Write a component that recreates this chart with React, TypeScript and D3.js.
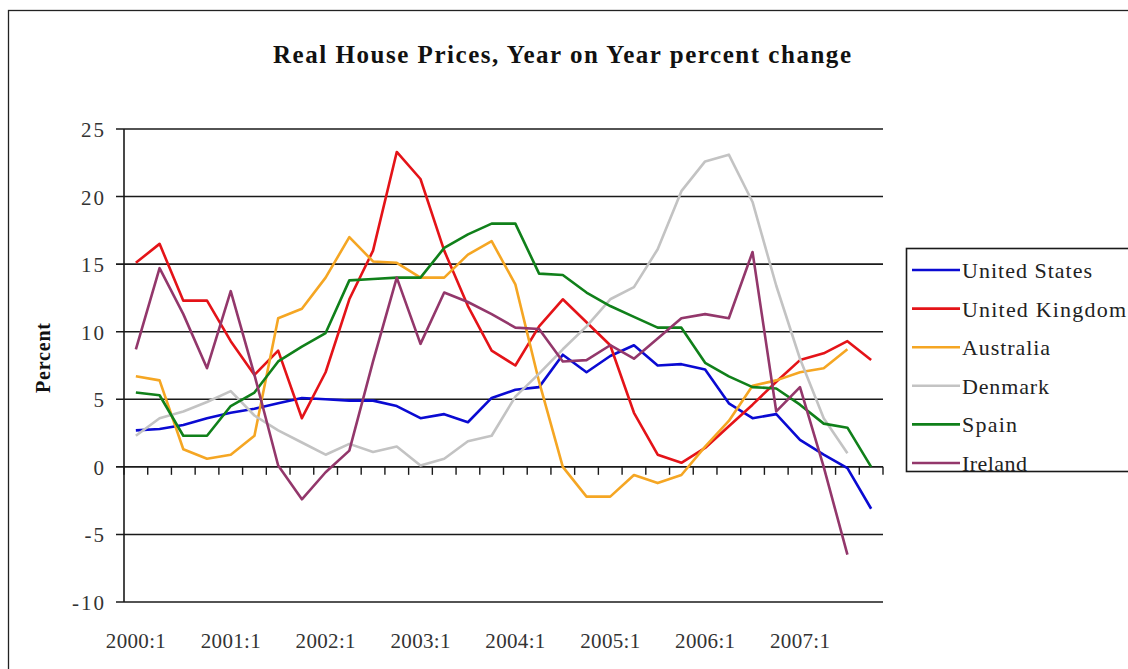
import * as d3 from "d3"

// quarterly categories, 2000:1 .. 2007:4
const quarters = [
  "2000:1", "2000:2", "2000:3", "2000:4", "2001:1", "2001:2", "2001:3", "2001:4",
  "2002:1", "2002:2", "2002:3", "2002:4", "2003:1", "2003:2", "2003:3", "2003:4",
  "2004:1", "2004:2", "2004:3", "2004:4", "2005:1", "2005:2", "2005:3", "2005:4",
  "2006:1", "2006:2", "2006:3", "2006:4", "2007:1", "2007:2", "2007:3", "2007:4",
]
const xLabels = ["2000:1", "2001:1", "2002:1", "2003:1", "2004:1", "2005:1", "2006:1", "2007:1"]
const yTicks = [-10, -5, 0, 5, 10, 15, 20, 25]

const unitedStates = [2.7, 2.8, 3.1, 3.6, 4.0, 4.3, 4.7, 5.1, 5.0, 4.9, 4.9, 4.5, 3.6, 3.9, 3.3, 5.1,
  5.7, 5.9, 8.3, 7.0, 8.2, 9.0, 7.5, 7.6, 7.2, 4.7, 3.6, 3.9, 2.0, 0.9, -0.1, -3.1]
const unitedKingdom = [15.1, 16.5, 12.3, 12.3, 9.3, 6.8, 8.6, 3.6, 7.0, 12.4, 16.0, 23.3, 21.3, 16.0, 11.9, 8.6,
  7.5, 10.4, 12.4, 10.7, 9.0, 4.0, 0.9, 0.3, 1.4, 3.0, 4.6, 6.3, 7.9, 8.4, 9.3, 7.9]
const australia = [6.7, 6.4, 1.3, 0.6, 0.9, 2.3, 11.0, 11.7, 14.0, 17.0, 15.2, 15.1, 14.0, 14.0, 15.7, 16.7,
  13.5, 6.3, 0.0, -2.2, -2.2, -0.6, -1.2, -0.6, 1.5, 3.4, 6.0, 6.4, 7.0, 7.3, 8.7, null]
const denmark = [2.3, 3.6, 4.1, 4.8, 5.6, 3.8, 2.7, 1.8, 0.9, 1.7, 1.1, 1.5, 0.1, 0.6, 1.9, 2.3,
  5.2, 6.9, 8.7, 10.4, 12.4, 13.3, 16.1, 20.4, 22.6, 23.1, 19.6, 13.4, 8.0, 3.6, 1.0, null]
const spain = [5.5, 5.3, 2.3, 2.3, 4.5, 5.5, 7.8, 8.9, 9.9, 13.8, 13.9, 14.0, 14.0, 16.2, 17.2, 18.0,
  18.0, 14.3, 14.2, 12.9, 11.9, 11.1, 10.3, 10.3, 7.7, 6.7, 5.9, 5.8, 4.6, 3.2, 2.9, 0.0]
const ireland = [8.7, 14.7, 11.3, 7.3, 13.0, 6.8, 0.1, -2.4, -0.4, 1.2, 7.8, 14.0, 9.1, 12.9, 12.2, 11.3,
  10.3, 10.2, 7.8, 7.9, 9.0, 8.0, 9.5, 11.0, 11.3, 11.0, 15.9, 4.1, 5.9, 0.0, -6.5, null]

const seriesNames = ["United States", "United Kingdom", "Australia", "Denmark", "Spain", "Ireland"]
const seriesValues = [unitedStates, unitedKingdom, australia, denmark, spain, ireland]

const colors = ["#0a0ad2", "#e41318", "#f5a623", "#c3c3c3", "#10801a", "#93376b"]
const legendWidths = [130, 164, 88, 87, 55, 65]
const font = "'Liberation Serif', 'Times New Roman', serif"

export default function App() {
  const width = 1128
  const height = 669
  const left = 124, right = 883, top = 129, bottom = 602

  const x = d3.scaleBand<string>().domain(quarters).range([left, right]).padding(0)
  const y = d3.scaleLinear().domain([-10, 25]).range([bottom, top])
  const cx = (q: string) => (x(q) as number) + x.bandwidth() / 2

  const line = d3.line<number | null>()
    .defined(d => d != null)
    .x((_, i) => cx(quarters[i]))
    .y(d => y(d as number))

  const y0 = y(0)

  return (
    <svg width={width} height={height} style={{ position: "absolute", left: 0, top: 0, background: "#fff" }}
      fontFamily={font}>
      <rect x={8.5} y={10.5} width={1200} height={700} fill="none" stroke="#222" strokeWidth={1.3} />

      <text x={562} y={63} textAnchor="middle" fontWeight="bold" fontSize={25}
        textLength={578} lengthAdjust="spacing" fill="#111">
        Real House Prices, Year on Year percent change
      </text>

      {/* gridlines + y ticks */}
      {yTicks.map(t => (
        <g key={t}>
          <line x1={116} x2={right} y1={y(t)} y2={y(t)} stroke="#1a1a1a" strokeWidth={1.6} />
          <text x={106} y={y(t) + 8} textAnchor="end" fontSize={21} letterSpacing={2} fill="#333">{t}</text>
        </g>
      ))}
      <line x1={left} x2={left} y1={top} y2={bottom} stroke="#1a1a1a" strokeWidth={1.6} />

      {/* category ticks on the zero line */}
      {quarters.map(q => (
        <line key={q} x1={x(q)} x2={x(q)} y1={y0} y2={y0 + 8} stroke="#1a1a1a" strokeWidth={1.4} />
      ))}
      <line x1={right} x2={right} y1={y0} y2={y0 + 8} stroke="#1a1a1a" strokeWidth={1.4} />

      {xLabels.map(l => (
        <text key={l} x={cx(l)} y={648} textAnchor="middle" fontSize={21}
          textLength={60} lengthAdjust="spacing" fill="#333">{l}</text>
      ))}

      <text transform="translate(50,358) rotate(-90)" textAnchor="middle" fontWeight="bold" fontSize={20}
        textLength={70} lengthAdjust="spacing" fill="#111">Percent</text>

      {seriesValues.map((vals, i) => (
        <path key={seriesNames[i]} d={line(vals) || ""} fill="none" stroke={colors[i]}
          strokeWidth={2.6} strokeLinejoin="round" />
      ))}

      {/* legend */}
      <rect x={906.5} y={248.5} width={300} height={223} fill="#fff" stroke="#1a1a1a" strokeWidth={1.6} />
      {seriesNames.map((n, i) => {
        const ly = 270 + i * 38.6
        return (
          <g key={n}>
            <line x1={912} x2={960} y1={ly} y2={ly} stroke={colors[i]} strokeWidth={2.6} />
            <text x={962} y={ly + 8} fontSize={22} textLength={legendWidths[i]} lengthAdjust="spacing"
              fill="#222">{n}</text>
          </g>
        )
      })}
    </svg>
  )
}
